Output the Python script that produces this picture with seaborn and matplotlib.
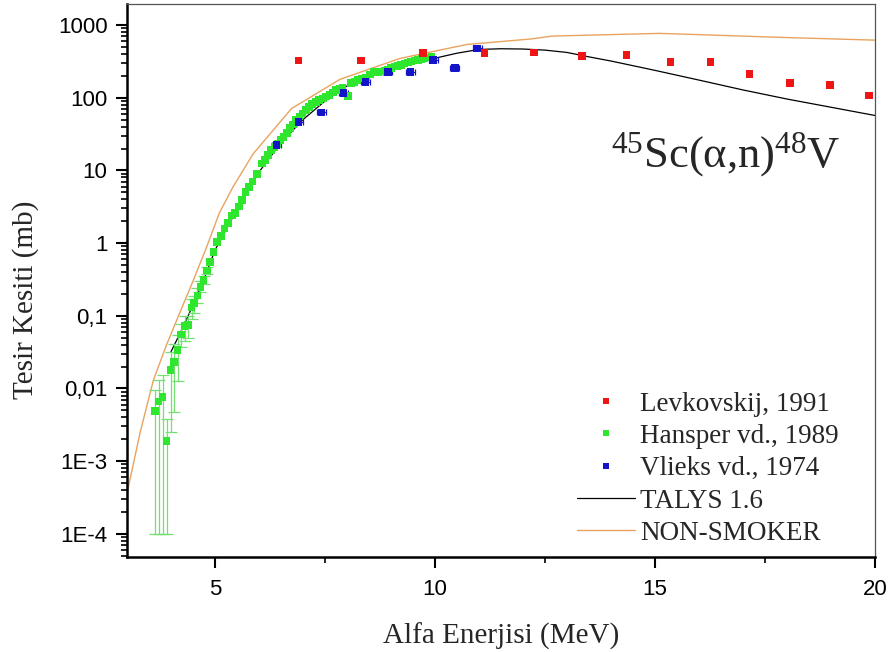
import matplotlib
matplotlib.use("Agg")
import matplotlib.pyplot as plt
from matplotlib.ticker import FixedLocator, FuncFormatter, LogLocator, NullFormatter, MultipleLocator
from matplotlib.lines import Line2D
import seaborn as sns

# Levkovskij, 1991
lev_e = [6.90, 8.32, 9.73, 11.13, 12.25, 13.34, 14.35, 15.35, 16.26, 17.15, 18.07, 18.98, 19.87]
lev_sigma = [324, 327, 416, 412, 421, 378, 386, 313, 313, 212, 161, 150, 107]

# Hansper vd., 1989
han_e = [3.64, 3.72, 3.81, 3.90, 3.99, 4.07, 4.15, 4.23, 4.31, 4.39, 4.47, 4.53, 4.60, 4.67,
         4.74, 4.82, 4.89, 4.97, 5.05, 5.14, 5.22, 5.30, 5.38, 5.46, 5.55, 5.62, 5.69, 5.78,
         5.85, 5.96, 6.07, 6.14, 6.20, 6.28, 6.35, 6.42, 6.49, 6.56, 6.63, 6.70, 6.77, 6.84,
         6.92, 6.99, 7.07, 7.14, 7.21, 7.29, 7.37, 7.45, 7.52, 7.60, 7.68, 7.75, 7.83, 7.90,
         8.02, 8.09, 8.17, 8.24, 8.33, 8.43, 8.52, 8.62, 8.70, 8.78, 8.86, 8.93, 9.00, 9.08,
         9.15, 9.23, 9.31, 9.39, 9.46, 9.54, 9.61, 9.69, 9.76, 9.84, 9.92]
han_sigma = [0.0049, 0.0066, 0.0076, 0.0019, 0.018, 0.023, 0.034, 0.055, 0.073, 0.074, 0.13,
             0.15, 0.19, 0.25, 0.31, 0.42, 0.55, 0.76, 1.04, 1.25, 1.58, 1.9, 2.4, 2.6, 3.2,
             3.9, 5.0, 5.9, 7.0, 9.0, 12.5, 14, 16.3, 19, 21, 23, 26, 29, 33, 38, 43, 49,
             55, 61, 68, 75, 82, 88, 93, 98, 104, 109, 118, 128, 134, 139, 106, 158, 166, 175,
             183, 191, 210, 227, 227, 230, 236, 241, 255, 268, 275, 282, 295, 307, 315, 324,
             332, 341, 350, 359, 370]
# lower / upper error bounds for the low-energy Hansper points
han_err_lo = [1e-4, 1e-4, 1e-4, 1e-4, 0.0025, 0.0048, 0.0126, 0.037, 0.045, 0.05, 0.09,
              0.11, 0.15, 0.21, 0.27, 0.37]
han_err_hi = [0.0096, 0.0129, 0.0155, 0.0038, 0.032, 0.041, 0.055, 0.077, 0.10, 0.10, 0.17,
              0.19, 0.24, 0.30, 0.35, 0.47]

# Vlieks vd., 1974
vli_e = [6.40, 6.90, 7.42, 7.92, 8.42, 8.93, 9.44, 9.96, 10.45, 10.96]
vli_sigma = [22.3, 46, 63, 116, 166, 228, 226, 333, 257, 477]

# TALYS 1.6
talys_e = [4.0, 4.25, 4.5, 4.75, 5.0, 5.5, 6.0, 6.5, 7.0, 7.5, 8.0, 8.5, 9.0, 9.5, 10.0,
           10.5, 11.0, 11.5, 12.0, 12.5, 13.0, 13.5, 14.0, 15.0, 16.0, 17.0, 18.0, 19.0, 20.0]
talys_sigma = [0.032, 0.065, 0.14, 0.32, 0.8, 2.9, 9.5, 24, 50, 90, 145, 205, 262, 315, 350,
               410, 462, 472, 468, 452, 420, 365, 320, 238, 175, 128, 96, 74, 57]

# NON-SMOKER
ns_e = [3.0, 3.3, 3.6, 3.9, 4.2, 4.5, 4.8, 5.1, 5.4, 5.87, 6.74, 7.84, 9.2, 10.72, 12.2,
        12.66, 15.1, 16.24, 17.75, 20.0]
ns_sigma = [3.6e-4, 0.0025, 0.013, 0.04, 0.11, 0.30, 0.85, 2.6, 5.8, 17, 71, 179, 347, 540,
            645, 705, 768, 730, 680, 620]

y_major = [1e-4, 1e-3, 1e-2, 1e-1, 1, 10, 100, 1000]
y_labels = ["1E-4", "1E-3", "0,01", "0,1", "1", "10", "100", "1000"]
x_major = [5, 10, 15, 20]

RED = "#ee1515"
GREEN = "#2ee62e"
GREEN_ERR = "#74e074"
BLUE = "#1414c8"
ORANGE = "#e9a35e"

sns.set_theme(style="ticks")
plt.rcParams["font.family"] = ["Liberation Sans", "DejaVu Sans"]
plt.rcParams["mathtext.fontset"] = "custom"
plt.rcParams["mathtext.rm"] = "Liberation Serif"
plt.rcParams["mathtext.it"] = "Liberation Serif:italic"

fig = plt.figure(figsize=(8.93, 6.52), dpi=100)
ax = fig.add_axes([0.1422, 0.1457, 0.8376, 0.8482])
ax.set_yscale("log")

# model curves
sns.lineplot(x=ns_e, y=ns_sigma, color=ORANGE, lw=1.0, ax=ax, estimator=None, sort=False, zorder=2)
sns.lineplot(x=talys_e, y=talys_sigma, color="black", lw=0.9, ax=ax, estimator=None, sort=False, zorder=2)

# error bars
n_err = len(han_err_lo)
lo = [s - l for s, l in zip(han_sigma[:n_err], han_err_lo)]
hi = [h - s for s, h in zip(han_sigma[:n_err], han_err_hi)]
ax.errorbar(han_e[:n_err], han_sigma[:n_err], yerr=[lo, hi], fmt="none", ecolor=GREEN_ERR,
            elinewidth=0.9, capsize=4, capthick=0.9, zorder=3)
ax.errorbar(vli_e, vli_sigma, xerr=0.1, fmt="none", ecolor=BLUE, elinewidth=0.9,
            capsize=2, capthick=0.9, zorder=4)

# measured data
sns.scatterplot(x=han_e, y=han_sigma, marker="s", s=30, color=GREEN, edgecolor="none", ax=ax, zorder=4)
sns.scatterplot(x=vli_e, y=vli_sigma, marker="s", s=30, color=BLUE, edgecolor="none", ax=ax, zorder=5)
sns.scatterplot(x=lev_e, y=lev_sigma, marker="s", s=30, color=RED, edgecolor="none", ax=ax, zorder=5)

ax.set_xlim(3, 20)
ax.set_ylim(4.8e-5, 1950)

ax.xaxis.set_major_locator(FixedLocator(x_major))
ax.xaxis.set_minor_locator(MultipleLocator(2.5))
ax.yaxis.set_major_locator(FixedLocator(y_major))
ax.yaxis.set_minor_locator(LogLocator(base=10, subs=[2, 3, 4, 5, 6, 7, 8, 9], numticks=20))
ax.yaxis.set_minor_formatter(NullFormatter())
label_map = dict(zip(y_major, y_labels))
ax.yaxis.set_major_formatter(FuncFormatter(lambda v, p: label_map.get(v, "")))
ax.xaxis.set_major_formatter(FuncFormatter(lambda v, p: f"{v:g}"))

ax.tick_params(which="major", direction="out", length=8, width=1.5, labelsize=16, colors="black")
ax.tick_params(which="minor", direction="out", length=4, width=1.2, colors="black")
ax.tick_params(axis="x", which="major", pad=8)
ax.tick_params(axis="y", which="major", pad=6)
ax.tick_params(axis="x", which="both", top=False)
ax.tick_params(axis="y", which="both", right=False)

for side in ("left", "bottom"):
    ax.spines[side].set_color("black")
    ax.spines[side].set_linewidth(1.8)
for side in ("top", "right"):
    ax.spines[side].set_color("#555555")
    ax.spines[side].set_linewidth(0.9)

serif = ["Liberation Serif", "DejaVu Serif"]
ax.set_xlabel("Alfa Enerjisi (MeV)", fontsize=21, family=serif, labelpad=16)
ax.set_ylabel("Tesir Kesiti (mb)", fontsize=21, family=serif)
ax.yaxis.set_label_coords(-0.117, 0.465)

ax.text(0.80, 0.728, r"$^{45}$Sc(α,n)$^{48}$V", transform=ax.transAxes, ha="center",
        va="center", fontsize=32, family=serif)

handles = [
    Line2D([], [], marker="s", ls="none", color=RED, markersize=4, markeredgewidth=0),
    Line2D([], [], marker="s", ls="none", color=GREEN, markersize=4, markeredgewidth=0),
    Line2D([], [], marker="s", ls="none", color=BLUE, markersize=4, markeredgewidth=0),
    Line2D([], [], color="black", lw=0.9),
    Line2D([], [], color=ORANGE, lw=1.0),
]
labels = ["Levkovskij, 1991", "Hansper vd., 1989", "Vlieks vd., 1974", "TALYS 1.6", "NON-SMOKER"]
ax.legend(handles, labels, loc="upper left", bbox_to_anchor=(0.601, 0.299), frameon=False,
          prop={"family": serif, "size": 19.5}, handlelength=2.15, handletextpad=0.2,
          labelspacing=0.27, borderpad=0, borderaxespad=0)

fig.savefig("out.png", dpi=100)
